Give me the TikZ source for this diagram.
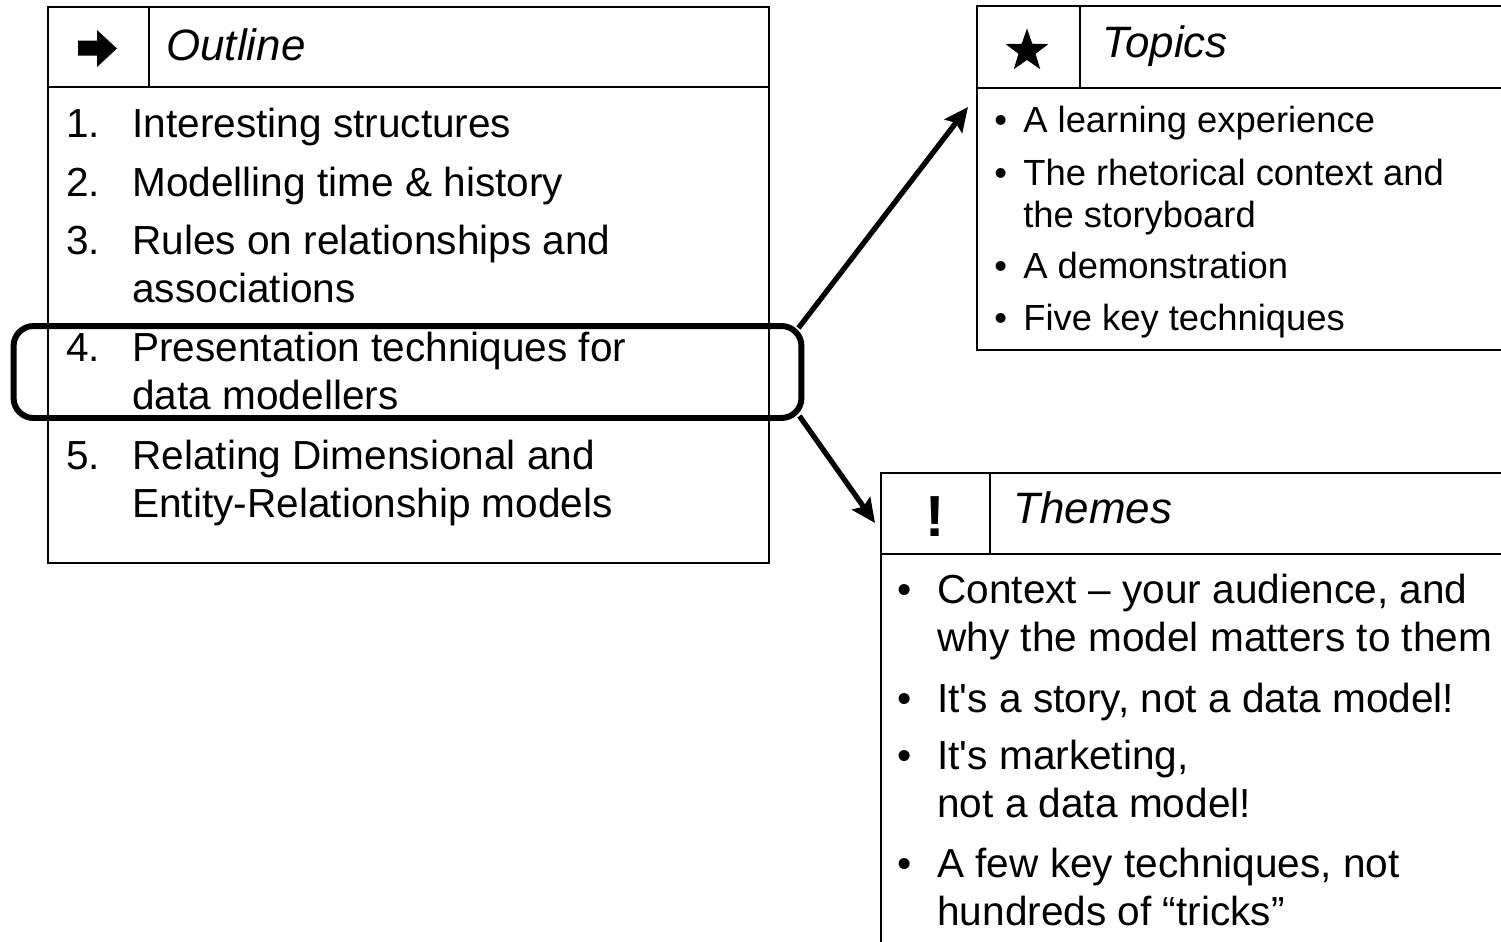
\documentclass[tikz,border=0pt]{standalone}
\usepackage{fontspec}
\setmainfont{Liberation Sans}[Ligatures=TeXOff]
\usepackage{tikz}
\usetikzlibrary{arrows.meta,positioning,calc,shapes.geometric}

\newcommand{\itemfont}{\fontsize{23.1pt}{27.3pt}\selectfont}
\newcommand{\topicfont}{\fontsize{20.7pt}{23.9pt}\selectfont}
\newcommand{\headfont}{\fontsize{25pt}{30pt}\selectfont\itshape}

\begin{document}
\begin{tikzpicture}[x=0.02cm, y=-0.02cm,
    panel/.style={draw, line width=1.1pt, inner sep=0pt, anchor=north west},
    rule/.style={line width=1.1pt},
    head/.style={anchor=base west, inner sep=0pt, font=\headfont},
    item/.style={anchor=base west, inner sep=0pt, align=left, font=\itemfont},
    topic/.style={anchor=base west, inner sep=0pt, align=left, font=\topicfont},
    hilite/.style={draw, line width=3.4pt, rounded corners=0.4cm, inner sep=0pt},
    link/.style={line width=3pt, -{Stealth[length=0.48cm, width=0.44cm, inset=0.08cm]}}]
    \useasboundingbox (0,0) rectangle (1501,941);
    \clip (0,0) rectangle (1501,941);

    % Outline panel
    \node[panel, minimum width=14.42cm, minimum height=11.12cm] (outline) at (47,6) {};
    \draw[rule] (47,87) -- (768,87);
    \draw[rule] (149,6) -- (149,87);
    \fill (78,40.5) -- (97,40.5) -- (97,30) -- (117,48.5) -- (97,67) -- (97,55.5) -- (78,55.5) -- cycle;
    \node[head] (outhead) at (166,60) {Outline};

    % (two-line items are placed at the baseline of their last line)
    \node[item] (n1) at (66,137) {1.};
    \node[item] (o1) at (132,137) {Interesting structures};
    \node[item] (n2) at (66,196) {2.};
    \node[item] (o2) at (132,196) {Modelling time \& history};
    \node[item] (n3) at (66,254) {3.};
    \node[item] (o3) at (132,302) {Rules on relationships and\\associations};
    \node[item] (n4) at (66,361) {4.};
    \node[item] (o4) at (132,409) {Presentation techniques for\\data modellers};
    \node[item] (n5) at (66,469) {5.};
    \node[item] (o5) at (132,517) {Relating Dimensional and\\Entity-Relationship models};

    % Topics panel
    \node[panel, minimum width=12cm, minimum height=6.88cm] (topics) at (976,5) {};
    \draw[rule] (976,88) -- (1501,88);
    \draw[rule] (1080,5) -- (1080,88);
    \node[star, star points=5, star point ratio=2.5, fill, inner sep=0pt, minimum size=0.9cm] (starmark) at (1027,51) {};
    \node[head] (tophead) at (1102,57) {Topics};

    \node[topic] (tb1) at (994,132) {•};
    \node[topic] (t1) at (1023,132) {A learning experience};
    \node[topic] (tb2) at (994,185) {•};
    \node[topic] (t2) at (1023,227) {The rhetorical context and\\the storyboard};
    \node[topic] (tb3) at (994,278) {•};
    \node[topic] (t3) at (1023,278) {A demonstration};
    \node[topic] (tb4) at (994,330) {•};
    \node[topic] (t4) at (1023,330) {Five key techniques};

    % Themes panel
    \node[panel, minimum width=14cm, minimum height=10.4cm] (themes) at (880,472) {};
    \draw[rule] (880,554) -- (1501,554);
    \draw[rule] (990,472) -- (990,554);
    \node[anchor=base, inner sep=0pt, font=\fontsize{33pt}{38pt}\selectfont\bfseries] (bang) at (935,536) {!};
    \node[head] (themhead) at (1013,523) {Themes};

    \node[item] (hb1) at (897,603) {•};
    \node[item] (h1) at (937,651) {Context – your audience, and\\why the model matters to them};
    \node[item] (hb2) at (897,712) {•};
    \node[item] (h2) at (937,712) {It's a story, not a data model!};
    \node[item] (hb3) at (897,769) {•};
    \node[item] (h3) at (937,817) {It's marketing,\\not a data model!};
    \node[item] (hb4) at (897,877) {•};
    \node[item] (h4) at (937,925) {A few key techniques, not\\hundreds of “tricks”};

    % Highlight and links
    \node[hilite, minimum width=15.76cm, minimum height=1.84cm] (hl) at (407.5,372) {};
    \coordinate (topicsin) at (968,107);
    \coordinate (themesin) at (875,523);
    \draw[link] ($(hl.north east)+(-6,5)$) -- (topicsin);
    \draw[link] ($(hl.south east)+(-5,-5)$) -- (themesin);
\end{tikzpicture}
\end{document}
